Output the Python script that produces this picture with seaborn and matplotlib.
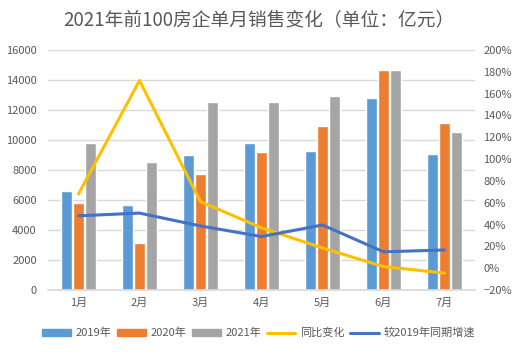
import numpy as np
import pandas as pd
import matplotlib
matplotlib.use('Agg')
import matplotlib.pyplot as plt
import seaborn as sns
from matplotlib.patches import Patch
from matplotlib.lines import Line2D
from matplotlib.ticker import FuncFormatter

months = ['1月', '2月', '3月', '4月', '5月', '6月', '7月']
sales_2019 = [6600, 5700, 9000, 9800, 9270, 12800, 9070]
sales_2020 = [5800, 3150, 7730, 9200, 10930, 14700, 11130]
sales_2021 = [9800, 8550, 12550, 12550, 12950, 14700, 10530]
yoy_change = [68, 172, 61, 37, 18.5, 1.5, -4.5]
vs_2019 = [48, 50.5, 38.7, 29, 39.6, 15, 16.7]

series_names = ['2019年', '2020年', '2021年']
bar_colors = ['#5B9BD5', '#ED7D31', '#A5A5A5']
yoy_color = '#FFC000'
vs_color = '#4472C4'
text_color = '#595959'

sns.set_theme(style='white')
plt.rcParams['font.family'] = ['Noto Sans CJK SC', 'DejaVu Sans']

df = pd.DataFrame({
    'month': months * 3,
    'year': np.repeat(series_names, len(months)),
    'sales': sales_2019 + sales_2020 + sales_2021,
})

fig = plt.figure(figsize=(5.17, 3.52), dpi=100)
ax = fig.add_axes([48 / 517, 62 / 352, 427 / 517, 240 / 352])

sns.barplot(data=df, x='month', y='sales', hue='year', palette=bar_colors,
            width=0.6, gap=0.08, ax=ax, legend=False, saturation=1)
ax.set_ylim(0, 16000)
ax.set_yticks(np.arange(0, 16001, 2000))
ax.yaxis.grid(True, color='#D9D9D9', linewidth=1)
ax.set_axisbelow(True)
ax.set_xlabel('')
ax.set_ylabel('')
for s in ['top', 'right', 'left']:
    ax.spines[s].set_visible(False)
ax.spines['bottom'].set_color('#D9D9D9')
ax.tick_params(axis='both', colors=text_color, labelsize=8, length=0)
ax.tick_params(axis='y', pad=8)
ax.tick_params(axis='x', pad=6)

ax2 = ax.twinx()
x = np.arange(len(months))
sns.lineplot(x=x, y=yoy_change, color=yoy_color, linewidth=2.2, ax=ax2)
sns.lineplot(x=x, y=vs_2019, color=vs_color, linewidth=2.2, ax=ax2)
ax2.set_ylim(-20, 200)
ax2.set_yticks(np.arange(-20, 201, 20))
ax2.yaxis.set_major_formatter(FuncFormatter(lambda v, p: f'{int(v)}%'.replace('-', '−')))
ax2.tick_params(axis='y', colors=text_color, labelsize=8, length=0, pad=6)
for s in ax2.spines.values():
    s.set_visible(False)
ax2.grid(False)
ax.set_xlim(-0.5, len(months) - 0.5)

fig.suptitle('2021年前100房企单月销售变化（单位：亿元）', x=0.5, y=0.975,
             fontsize=13.5, color=text_color)

handles = [Patch(color=c, label=n) for c, n in zip(bar_colors, series_names)]
handles += [Line2D([0], [0], color=yoy_color, lw=2.2, label='同比变化'),
            Line2D([0], [0], color=vs_color, lw=2.2, label='较2019年同期增速')]
fig.legend(handles=handles, loc='center', bbox_to_anchor=(0.5, 19 / 352), ncol=5,
           frameon=False, fontsize=8, labelcolor=text_color, handlelength=2.6,
           handleheight=0.6, columnspacing=0.5, handletextpad=0.4)

fig.savefig('out.png', dpi=100)
